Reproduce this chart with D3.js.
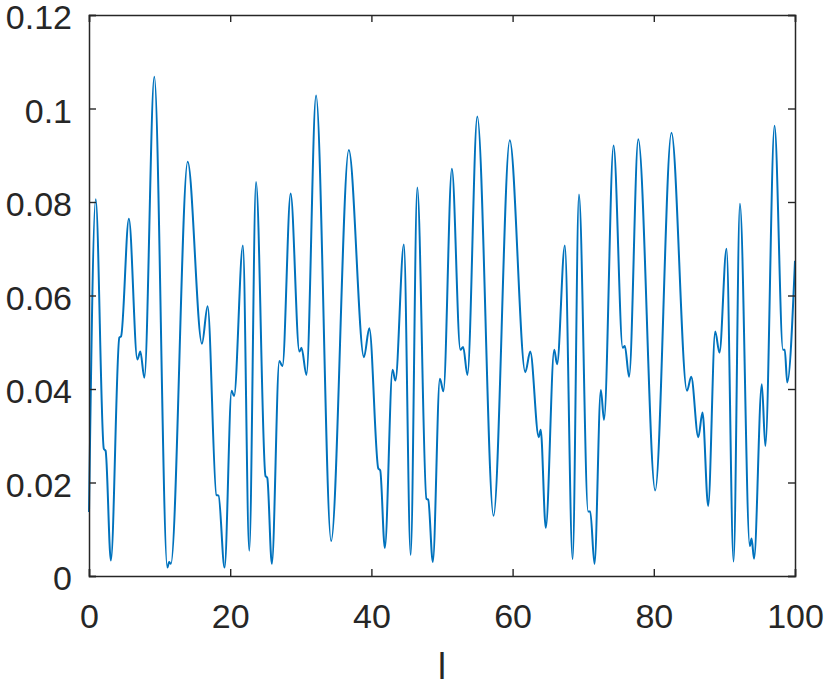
<!DOCTYPE html>
<html><head><meta charset="utf-8">
<script src="https://cdn.jsdelivr.net/npm/d3@7"></script>
<style>html,body{margin:0;padding:0;background:#fff;}svg{display:block;}</style>
</head><body>
<svg id="c" width="830" height="681"></svg>
<script>
const xValues = [0,0.95,2.1,2.35,3.1,4.3,4.55,5.65,6.85,7.27,7.84,9.25,11.1,11.35,11.6,13.98,16.0,16.8,18.05,18.35,19.2,20.2,20.55,21.8,22.7,23.66,25.0,25.25,25.9,26.96,27.4,28.56,29.8,30.1,30.8,32.16,34.3,36.8,38.95,39.7,40.98,41.25,41.9,43.0,43.4,44.6,45.56,46.5,47.8,48.05,48.7,49.7,50.2,51.4,52.6,53.0,53.6,55.0,57.3,59.6,61.8,62.5,63.7,63.98,64.7,65.9,66.3,67.4,68.5,69.4,70.7,71.0,71.6,72.5,72.95,74.3,75.6,75.9,76.5,77.8,80.2,82.5,84.7,85.3,86.3,86.9,87.7,88.7,89.3,90.3,91.3,92.2,93.6,93.85,94.2,95.3,95.8,97.1,98.3,98.55,98.9,100];
const yValues = [0.0137,0.0806,0.0272,0.0268,0.0033,0.0510,0.0513,0.0764,0.0463,0.0480,0.0424,0.1068,0.0018,0.0030,0.0026,0.0886,0.0497,0.0577,0.0173,0.0172,0.0018,0.0396,0.0385,0.0707,0.0054,0.0843,0.0214,0.0210,0.0026,0.0460,0.0449,0.0818,0.0480,0.0488,0.0430,0.1028,0.0075,0.0911,0.0468,0.0530,0.0230,0.0226,0.0060,0.0441,0.0418,0.0709,0.0045,0.0831,0.0165,0.0163,0.0030,0.0422,0.0395,0.0871,0.0484,0.0490,0.0430,0.0983,0.0129,0.0932,0.0436,0.0480,0.0297,0.0313,0.0103,0.0484,0.0453,0.0707,0.0036,0.0816,0.0138,0.0138,0.0026,0.0398,0.0334,0.0921,0.0488,0.0492,0.0426,0.0934,0.0183,0.0948,0.0396,0.0426,0.0297,0.0350,0.0150,0.0523,0.0478,0.0700,0.0031,0.0796,0.0064,0.0080,0.0037,0.0410,0.0278,0.0963,0.0484,0.0484,0.0414,0.0674];
const xTicks = [0,20,40,60,80,100];
const yTicks = [0,0.02,0.04,0.06,0.08,0.1,0.12];
const yTickLabels = ["0","0.02","0.04","0.06","0.08","0.1","0.12"];
const xLabel = "l";

const L = 89, R = 795, T = 15, B = 576;
const svg = d3.select("#c");
const x = d3.scaleLinear().domain([0,100]).range([L,R]);
const y = d3.scaleLinear().domain([0,0.12]).range([B,T]);
const axisColor = "#262626";
const font = "'Liberation Sans', Arial, Helvetica, sans-serif";
const fs = 34;
const tl = 7;

const data = xValues.map((v,i)=>[v,yValues[i]]);

svg.append("path").datum(data)
  .attr("fill","none").attr("stroke","#0072BD").attr("stroke-width",2)
  .attr("stroke-linejoin","round")
  .attr("d", d3.line().x(d=>x(d[0])).y(d=>y(d[1])).curve(d3.curveMonotoneX));

// axes
const gB = svg.append("g").attr("transform",`translate(0,${B})`)
  .call(d3.axisBottom(x).tickValues(xTicks).tickSize(-tl).tickPadding(28).tickFormat(d3.format("d")));
const gT = svg.append("g").attr("transform",`translate(0,${T})`)
  .call(d3.axisTop(x).tickValues(xTicks).tickSize(-tl).tickFormat(""));
const gL = svg.append("g").attr("transform",`translate(${L},0)`)
  .call(d3.axisLeft(y).tickValues(yTicks).tickSize(-tl).tickPadding(17).tickFormat((d,i)=>yTickLabels[i]));
const gR = svg.append("g").attr("transform",`translate(${R},0)`)
  .call(d3.axisRight(y).tickValues(yTicks).tickSize(-tl).tickFormat(""));
[gB,gT,gL,gR].forEach(g=>{
  g.select(".domain").attr("stroke",axisColor).attr("stroke-width",1.5);
  g.selectAll(".tick line").attr("stroke",axisColor).attr("stroke-width",1.4);
  g.selectAll("text").attr("fill",axisColor).attr("font-family",font).attr("font-size",fs);
});
gB.selectAll("text").attr("y",52).attr("dy",null);
gL.selectAll("text").attr("dy","0.41em");
svg.append("text").attr("x",(L+R)/2).attr("y",679)
  .attr("text-anchor","middle").attr("font-family",font).attr("font-size",36)
  .attr("fill",axisColor).text(xLabel);
</script>
</body></html>
